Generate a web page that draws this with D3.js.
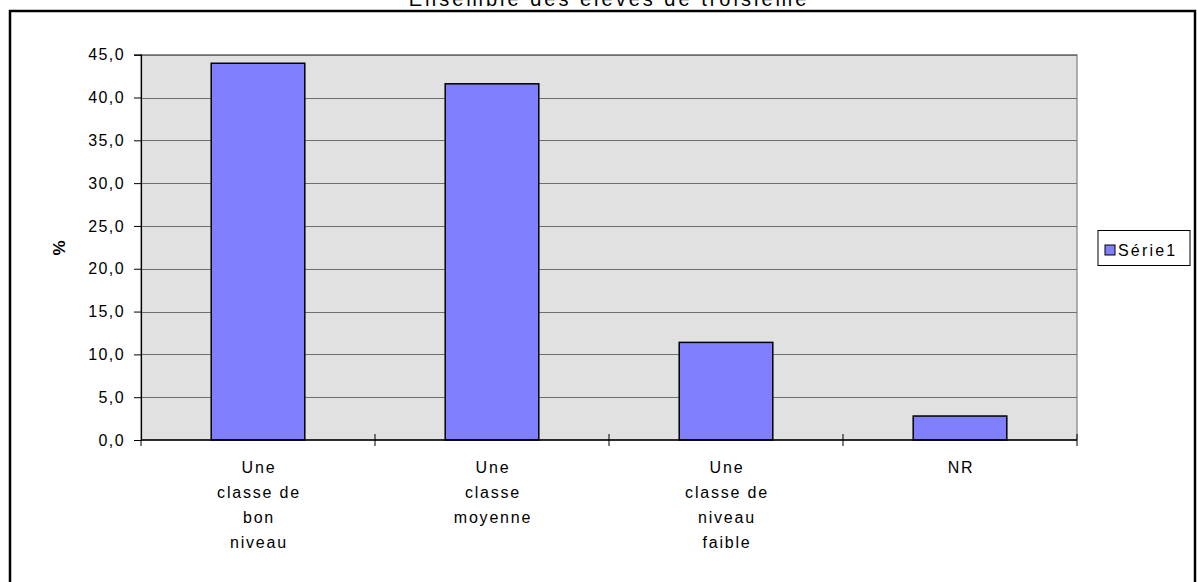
<!DOCTYPE html>
<html><head><meta charset="utf-8">
<script src="https://cdn.jsdelivr.net/npm/d3@7"></script>
<style>body{margin:0;background:#fff}svg{display:block}text{font-family:"Liberation Sans",Arial,sans-serif;fill:#000}</style>
</head><body><svg id="c" width="1197" height="582"></svg>
<script>
const title = "Ensemble des élèves de troisième";
const categories = ["Une classe de bon niveau","Une classe moyenne","Une classe de niveau faible","NR"];
const categoryLines = [["Une","classe de","bon","niveau"],["Une","classe","moyenne"],["Une","classe de","niveau","faible"],["NR"]];
const values = [44.0, 41.6, 11.4, 2.8];
const yTicks = [0,5,10,15,20,25,30,35,40,45];
const seriesName = "Série1";
const yLabel = "%";

const svg = d3.select("#c");
const m = {l:141, r:1077, t:54.7, b:440};
svg.append("rect").attr("x",10).attr("y",11).attr("width",1185).attr("height",590).attr("fill","none").attr("stroke","#000").attr("stroke-width",2.5);
svg.append("text").attr("x",609).attr("y",5.5).attr("text-anchor","middle").style("font-size","20px").style("letter-spacing","3px").text(title);

const x = d3.scaleBand().domain(categories).range([m.l,m.r]).paddingInner(0.6).paddingOuter(0.3);
const xb = d3.scaleBand().domain(categories).range([m.l,m.r]);
const y = d3.scaleLinear().domain([0,45]).range([m.b,m.t]);

svg.append("rect").attr("x",m.l).attr("y",m.t).attr("width",m.r-m.l).attr("height",m.b-m.t).attr("fill","#e1e1e1").attr("stroke","#808080").attr("stroke-width",1.2);
svg.append("g").selectAll("line").data(yTicks.slice(1)).join("line")
  .attr("x1",m.l).attr("x2",m.r).attr("y1",d=>Math.round(y(d))+0.5).attr("y2",d=>Math.round(y(d))+0.5).attr("stroke","#6e6e6e").attr("stroke-width",1);

svg.append("g").selectAll("rect").data(values).join("rect")
  .attr("x",(d,i)=>x(categories[i])).attr("width",x.bandwidth())
  .attr("y",d=>y(d)).attr("height",d=>y(0)-y(d))
  .attr("fill","#8080ff").attr("stroke","#000").attr("stroke-width",1.5);

const ya = svg.append("g").attr("transform",`translate(${m.l},0)`)
  .call(d3.axisLeft(y).tickValues(yTicks).tickSize(7).tickPadding(9).tickFormat(d=>d3.format(".1f")(d).replace(".",",")));
ya.select(".domain").attr("stroke","#000").attr("stroke-width",1.2);
ya.selectAll(".tick line").attr("stroke","#000");
ya.selectAll("text").style("font-size","16px").style("letter-spacing","1.4px").style("font-family","Liberation Sans, Arial, sans-serif");

svg.append("line").attr("x1",m.l).attr("x2",m.r).attr("y1",m.b).attr("y2",m.b).attr("stroke","#000").attr("stroke-width",1.5);
const bounds = [m.l, ...categories.map(c=>xb(c)+xb.bandwidth())];
svg.append("g").selectAll("line").data(bounds).join("line")
  .attr("x1",d=>d).attr("x2",d=>d).attr("y1",(d,i)=>i===0?m.b:m.b-6).attr("y2",m.b+6).attr("stroke","#000");

const lab = svg.append("g").selectAll("text").data(categories).join("text")
  .attr("text-anchor","middle").style("font-size","16px").style("letter-spacing","1.8px");
lab.each(function(c,i){
  d3.select(this).selectAll("tspan").data(categoryLines[i]).join("tspan")
    .attr("x",xb(c)+xb.bandwidth()/2+1).attr("y",(d,j)=>472.5+j*25.3).text(d=>d);
});

svg.append("text").attr("transform","translate(65,248) rotate(-90)").attr("text-anchor","middle").style("font-size","17px").style("font-weight","bold").text(yLabel);

const lg = svg.append("g");
lg.append("rect").attr("x",1098).attr("y",230.5).attr("width",92).attr("height",35).attr("fill","#fff").attr("stroke","#000");
lg.append("rect").attr("x",1105).attr("y",245).attr("width",10).attr("height",10).attr("fill","#8080ff").attr("stroke","#000");
lg.append("text").attr("x",1118).attr("y",255.5).style("font-size","16px").style("letter-spacing","2.2px").text(seriesName);
</script></body></html>
